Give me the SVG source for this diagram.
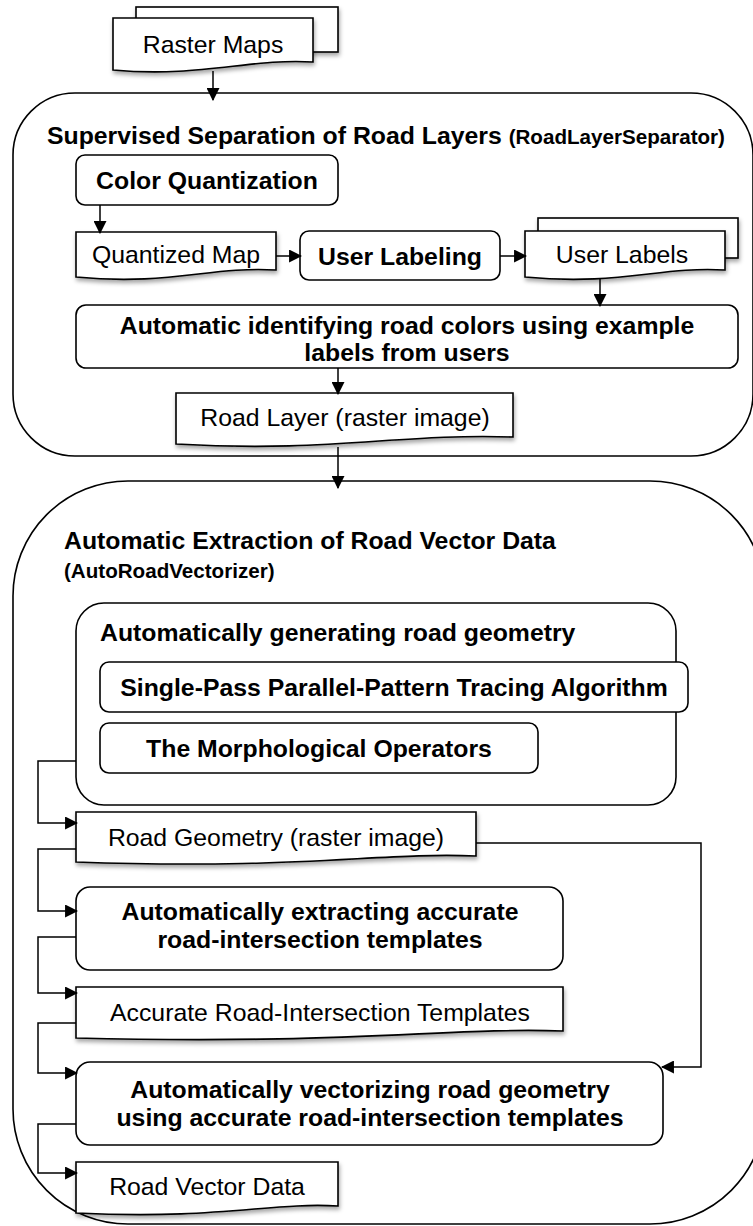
<svg xmlns="http://www.w3.org/2000/svg" width="753" height="1226" viewBox="0 0 753 1226">
<defs>
<marker id="ah" viewBox="0 0 12 12" refX="11" refY="6" markerWidth="13" markerHeight="13" markerUnits="userSpaceOnUse" orient="auto">
<path d="M0,0 L12,6 L0,12 Z" fill="#000"/>
</marker>
<filter id="sh" x="-10%" y="-20%" width="130%" height="150%">
<feDropShadow dx="1" dy="3" stdDeviation="2.2" flood-color="#000" flood-opacity="0.35"/>
</filter>
<style>
.c{fill:none;stroke:#000;stroke-width:1.6}
.b{fill:#fff;stroke:#000;stroke-width:1.6}
.d{fill:#fff;stroke:#000;stroke-width:1.6;filter:url(#sh)}
.ln{fill:none;stroke:#000;stroke-width:1.5;marker-end:url(#ah)}
.t{font-family:"Liberation Sans",Arial,Helvetica,sans-serif;font-size:24.8px;fill:#000;text-anchor:middle}
.tb{font-family:"Liberation Sans",Arial,Helvetica,sans-serif;font-size:24.8px;font-weight:bold;fill:#000;text-anchor:middle}
.ti{font-family:"Liberation Sans",Arial,Helvetica,sans-serif;font-size:24.8px;font-weight:bold;fill:#000}
.ts{font-size:20.6px}
</style>
</defs>
<rect width="753" height="1226" fill="#fff"/>

<g id="container1">
<rect class="c" x="13" y="93" width="740" height="363" rx="62" ry="62"/>
<text class="ti" x="47" y="144">Supervised Separation of Road Layers <tspan class="ts">(RoadLayerSeparator)</tspan></text>
</g>

<g id="container2">
<rect class="c" x="13" y="481" width="752" height="743" rx="115" ry="115"/>
<text class="ti" x="64" y="549">Automatic Extraction of Road Vector Data</text>
<text class="ti ts" x="64" y="578">(AutoRoadVectorizer)</text>
</g>

<g id="raster-maps">
<rect class="d" x="136" y="7" width="202" height="45"/>
<path class="d" d="M113,18 H313 V62 C250,58 200,78 113,70 Z"/>
<text class="t" x="213" y="53">Raster Maps</text>
</g>

<g id="color-quantization">
<rect class="b" x="76" y="155" width="262" height="50" rx="9"/>
<text class="tb" x="207" y="189">Color Quantization</text>
</g>

<g id="quantized-map">
<path class="d" d="M76,232 H276 V270 C210,266 170,286 76,277 Z"/>
<text class="t" x="176" y="263">Quantized Map</text>
</g>

<g id="user-labeling">
<rect class="b" x="300" y="231" width="200" height="49" rx="9"/>
<text class="tb" x="400" y="265">User Labeling</text>
</g>

<g id="user-labels">
<rect class="d" x="538" y="218" width="200" height="40"/>
<path class="d" d="M525,231 H725 V270 C660,266 620,286 525,277 Z"/>
<text class="t" x="622" y="263">User Labels</text>
</g>

<g id="auto-identify">
<rect class="b" x="76" y="305" width="662" height="63" rx="10"/>
<text class="tb" x="407" y="334">Automatic identifying road colors using example</text>
<text class="tb" x="407" y="361">labels from users</text>
</g>

<g id="road-layer">
<path class="d" d="M176,393 H513 V437 C400,433 330,453 176,444 Z"/>
<text class="t" x="345" y="426">Road Layer (raster image)</text>
</g>

<g id="generate-geometry">
<rect class="b" x="76" y="603" width="600" height="202" rx="28"/>
<text class="ti" x="100" y="641">Automatically generating road geometry</text>
</g>

<g id="single-pass">
<rect class="b" x="100" y="662" width="588" height="50" rx="9"/>
<text class="tb" x="394" y="696">Single-Pass Parallel-Pattern Tracing Algorithm</text>
</g>

<g id="morphological">
<rect class="b" x="100" y="723" width="438" height="50" rx="9"/>
<text class="tb" x="319" y="757">The Morphological Operators</text>
</g>

<g id="road-geometry">
<path class="d" d="M76,812 H476 V856 C380,852 300,870 76,862 Z"/>
<text class="t" x="276" y="846">Road Geometry (raster image)</text>
</g>

<g id="extract-templates">
<rect class="b" x="76" y="887" width="487" height="83" rx="14"/>
<text class="tb" x="320" y="920">Automatically extracting accurate</text>
<text class="tb" x="320" y="948">road-intersection templates</text>
</g>

<g id="accurate-templates">
<path class="d" d="M76,987 H563 V1031 C450,1027 350,1045 76,1038 Z"/>
<text class="t" x="320" y="1021">Accurate Road-Intersection Templates</text>
</g>

<g id="vectorize">
<rect class="b" x="76" y="1062" width="587" height="83" rx="14"/>
<text class="tb" x="370" y="1098">Automatically vectorizing road geometry</text>
<text class="tb" x="370" y="1126">using accurate road-intersection templates</text>
</g>

<g id="road-vector-data">
<path class="d" d="M76,1162 H338 V1206 C270,1202 220,1220 76,1213 Z"/>
<text class="t" x="207" y="1195">Road Vector Data</text>
</g>

<g id="connectors">
<path class="ln" d="M213,71 V100"/>
<path class="ln" d="M100,205 V233"/>
<path class="ln" d="M276,256 H301"/>
<path class="ln" d="M500,256 H526"/>
<path class="ln" d="M600,279 V306"/>
<path class="ln" d="M338,368 V394"/>
<path class="ln" d="M338,447 V488"/>
<path class="ln" d="M76,761 H38 V823 H77"/>
<path class="ln" d="M76,849 H38 V911 H77"/>
<path class="ln" d="M76,937 H38 V993 H77"/>
<path class="ln" d="M76,1023 H38 V1073 H77"/>
<path class="ln" d="M476,843 H701 V1067 H662"/>
<path class="ln" d="M76,1124 H38 V1173 H77"/>
</g>
</svg>
